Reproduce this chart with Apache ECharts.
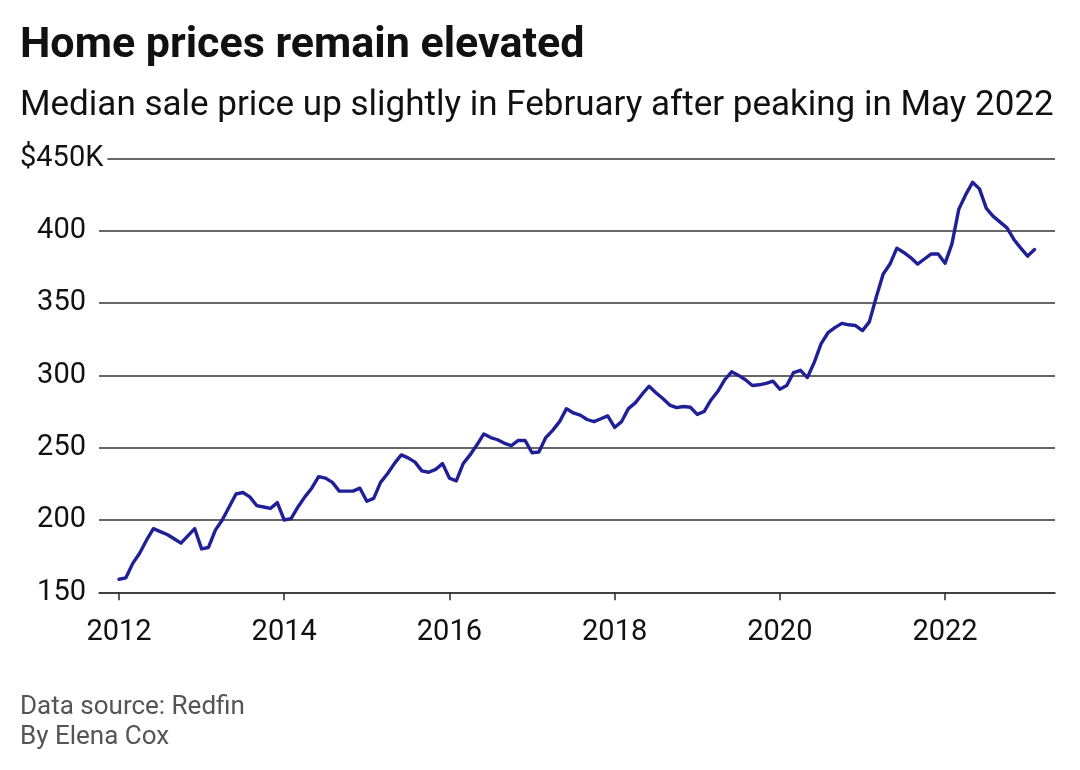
<!DOCTYPE html>
<html>
<head>
<meta charset="utf-8">
<script src="https://cdn.jsdelivr.net/npm/echarts@6/dist/echarts.min.js"></script>
<style>
  html, body { margin: 0; padding: 0; background: #fff; }
  #chart { width: 1080px; height: 770px; }
</style>
</head>
<body>
<div id="chart"></div>
<script>
// Median sale price, $K, monthly (Jan..Dec)
const price2012 = [159, 160, 170, 177, 186, 194, 192, 190, 187, 184, 189, 194];
const price2013 = [180, 181, 193, 200, 209, 218, 219, 216, 210, 209, 208, 212];
const price2014 = [200, 201, 209, 216, 222, 230, 229, 226, 220, 220, 220, 222];
const price2015 = [213, 215, 226, 232, 239, 245, 243, 240, 234, 233, 235, 239];
const price2016 = [229, 227, 239, 245, 252, 259.5, 257, 255.5, 253, 251.5, 255, 255];
const price2017 = [246.5, 247, 257, 262, 268, 277, 274, 272.5, 269.5, 268, 270, 272];
const price2018 = [264, 268, 277, 281, 287, 292.5, 288, 284, 279.5, 277.7, 278.5, 278];
const price2019 = [273, 275, 283, 289, 297, 302.5, 300, 297, 293, 293.5, 294.5, 296];
const price2020 = [290.5, 293, 302, 303.5, 298.5, 309, 322, 329.5, 333, 336, 335, 334.5];
const price2021 = [331, 337, 354, 370, 377, 388, 385, 381.5, 377, 380.5, 384, 384];
const price2022 = [377.5, 391, 415, 425, 433.5, 429, 415.5, 410, 406, 402, 394, 388];
const price2023 = [382.5, 387];

const years = [2012, 2013, 2014, 2015, 2016, 2017, 2018, 2019, 2020, 2021, 2022, 2023];
const pricesByYear = [price2012, price2013, price2014, price2015, price2016, price2017,
                      price2018, price2019, price2020, price2021, price2022, price2023];

const xTickYears = [2012, 2014, 2016, 2018, 2020, 2022];
const yTicks = [150, 200, 250, 300, 350, 400, 450];

const title = 'Home prices remain elevated';
const subtitle = 'Median sale price up slightly in February after peaking in May 2022';
const source = 'Data source: Redfin';
const byline = 'By Elena Cox';

// build [fractional year, value] pairs
const seriesData = [];
years.forEach((y, i) => {
  pricesByYear[i].forEach((v, m) => seriesData.push([y + m / 12, v]));
});

const FONT = 'Roboto, "Noto Sans", sans-serif';
const chart = echarts.init(document.getElementById('chart'), null, { renderer: 'canvas' });

chart.setOption({
  backgroundColor: '#ffffff',
  animation: false,
  textStyle: { fontFamily: FONT },
  title: [
    { text: title, left: 20, top: 25, padding: 0,
      textStyle: { fontFamily: FONT, fontSize: 43, fontWeight: 'bold', color: '#111' } },
    { text: subtitle, left: 20, top: 89, padding: 0,
      textStyle: { fontFamily: FONT, fontSize: 35, fontWeight: 'normal', color: '#111' } },
    { text: source, left: 20, top: 694, padding: 0,
      textStyle: { fontFamily: FONT, fontSize: 26, fontWeight: 'normal', color: '#555' } },
    { text: byline, left: 20, top: 724, padding: 0,
      textStyle: { fontFamily: FONT, fontSize: 26, fontWeight: 'normal', color: '#555' } }
  ],
  grid: { left: 99, right: 25, top: 158.5, bottom: 177.7, containLabel: false },
  xAxis: {
    type: 'value',
    min: 2011.758,
    max: 2023.331,
    axisLine: { show: true, lineStyle: { color: '#333', width: 1.6 } },
    axisTick: { show: true, customValues: xTickYears, length: 8, lineStyle: { color: '#333', width: 1.6 } },
    axisLabel: { customValues: xTickYears, fontSize: 29, color: '#111', margin: 26, fontFamily: FONT,
                 formatter: v => String(Math.round(v)) },
    splitLine: { show: false }
  },
  yAxis: {
    type: 'value',
    min: 150,
    max: 450,
    interval: 50,
    axisLine: { show: false },
    axisTick: { show: false },
    axisLabel: { fontSize: 29, color: '#111', margin: 13, fontFamily: FONT,
                 formatter: v => (v === 450 ? '' : String(v)) },
    splitLine: { show: true, lineStyle: { color: '#333', width: 1.6 } }
  },
  graphic: [
    { type: 'text', left: 20, top: 159 - 15, z: 100,
      style: { text: '$' + yTicks[yTicks.length - 1] + 'K', fontSize: 29, fill: '#111', fontFamily: FONT,
               backgroundColor: '#fff', padding: [0, 4, 0, 0] } }
  ],
  series: [{
    type: 'line',
    data: seriesData,
    showSymbol: false,
    smooth: false,
    lineStyle: { color: '#1f1f98', width: 3.4, join: 'round', cap: 'round' },
    z: 5
  }]
});
</script>
</body>
</html>
